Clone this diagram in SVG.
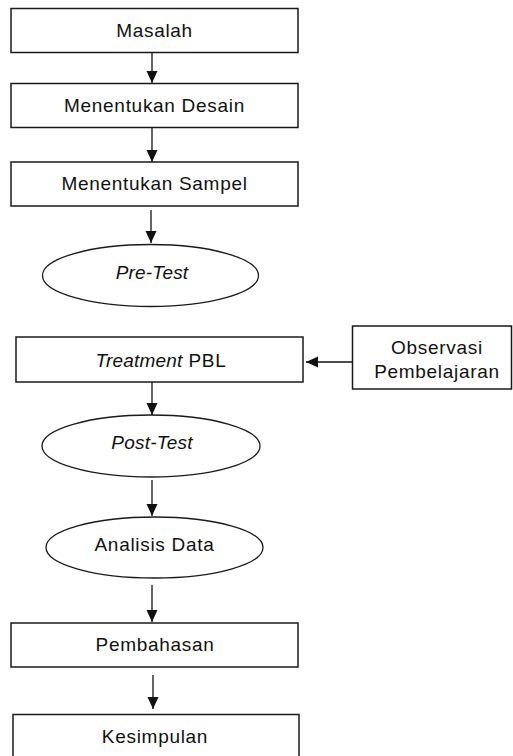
<svg xmlns="http://www.w3.org/2000/svg" width="513" height="756" viewBox="0 0 513 756">
<style>
.box{fill:#fff;stroke:#1a1a1a;stroke-width:1.5}
.ell{fill:#fff;stroke:#1a1a1a;stroke-width:1.3}
.t{font-family:"Liberation Sans",Arial,sans-serif;font-size:19px;letter-spacing:0.7px;fill:#111;text-anchor:middle}
.i{font-style:italic}
.it{font-style:italic;letter-spacing:0.2px}
.c{stroke:#111;stroke-width:1.3;fill:none;marker-end:url(#ah)}
</style>
<defs>
<marker id="ah" markerUnits="userSpaceOnUse" markerWidth="12" markerHeight="12" refX="12" refY="6" orient="auto">
<path d="M0,0.5 L12,6 L0,11.5 z" fill="#111"/>
</marker>
</defs>
<rect width="513" height="756" fill="#fff"/>
<g id="connectors">
<line class="c" x1="152" y1="52" x2="152" y2="83"/>
<line class="c" x1="152" y1="128" x2="152" y2="162"/>
<line class="c" x1="151" y1="210" x2="151" y2="243"/>
<line class="c" x1="352" y1="362" x2="306" y2="362"/>
<line class="c" x1="152" y1="382" x2="152" y2="415"/>
<line class="c" x1="152" y1="480" x2="152" y2="516"/>
<line class="c" x1="152" y1="585" x2="152" y2="622"/>
<line class="c" x1="153" y1="675" x2="153" y2="709"/>
</g>
<g id="masalah"><rect class="box" x="11" y="8.5" width="287" height="44"/><text class="t" x="154.5" y="37">Masalah</text></g>
<g id="desain"><rect class="box" x="11" y="83.5" width="287" height="44"/><text class="t" x="154.5" y="112">Menentukan Desain</text></g>
<g id="sampel"><rect class="box" x="11" y="162" width="287" height="44"/><text class="t" x="154.5" y="190">Menentukan Sampel</text></g>
<g id="pretest"><ellipse class="ell" cx="150.5" cy="275.5" rx="108" ry="31"/><text class="t it" x="152" y="279">Pre-Test</text></g>
<g id="treatment"><rect class="box" x="16" y="337" width="287" height="45"/><text class="t" x="161" y="367"><tspan class="it">Treatment</tspan> PBL</text></g>
<g id="observasi"><rect class="box" x="352.5" y="326" width="159" height="63"/><text class="t" x="437" y="354">Observasi</text><text class="t" x="437" y="378">Pembelajaran</text></g>
<g id="posttest"><ellipse class="ell" cx="151" cy="446" rx="109" ry="31"/><text class="t it" x="152" y="449">Post-Test</text></g>
<g id="analisis"><ellipse class="ell" cx="154.5" cy="547.5" rx="108.5" ry="30.5"/><text class="t" x="154.5" y="551">Analisis Data</text></g>
<g id="pembahasan"><rect class="box" x="11" y="623" width="287" height="44"/><text class="t" x="155" y="651">Pembahasan</text></g>
<g id="kesimpulan"><rect class="box" x="13" y="714.5" width="286" height="50"/><text class="t" x="155" y="743">Kesimpulan</text></g>
</svg>
